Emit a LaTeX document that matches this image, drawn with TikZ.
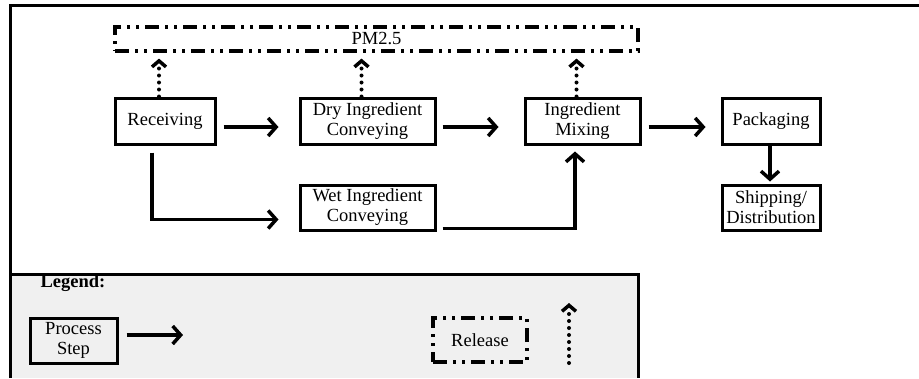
\documentclass[tikz,border=0pt]{standalone}
\usepackage{fontspec}
\setmainfont{Liberation Serif}
\usetikzlibrary{arrows.meta, calc}
\definecolor{legendgray}{RGB}{240, 240, 240}

\begin{document}
\begin{tikzpicture}[x=1pt, y=-1pt,
    procbox/.style={rectangle, draw, line width=3pt, align=center, inner sep=0pt,
        font=\fontsize{18.5}{20}\selectfont},
    relbox/.style={procbox, line width=3.2pt, dash pattern=on 14pt off 6pt on 3pt off 6pt on 3pt off 6pt},
    flow/.style={-{Straight Barb[length=8pt, width=18pt, line width=3.5pt]}, line width=3.5pt},
    release/.style={-{Straight Barb[length=6pt, width=14pt, line width=3.5pt]}, line width=4pt,
        line cap=round, dash pattern=on 0pt off 7pt},
]
    \useasboundingbox (0,0) rectangle (919,378);
    % legend panel and frame
    \fill[legendgray] (10,274) rectangle (638,378);
    \draw[line width=3pt] (10,378) -- (10,5) -- (919,5);
    \draw[line width=3pt] (10,274) -- (638,274) -- (638,378);

    % process steps
    \node[relbox, minimum width=523pt, minimum height=24pt] (pm) at (376.5,39) {PM2.5};
    \node[procbox, minimum width=100pt, minimum height=46pt] (recv) at (165,121) {Receiving};
    \node[procbox, minimum width=135pt, minimum height=46pt] (dry) at (367.5,121) {Dry Ingredient\\Conveying};
    \node[procbox, minimum width=135pt, minimum height=45pt] (wet) at (367.5,207.5) {Wet Ingredient\\Conveying};
    \node[procbox, minimum width=115pt, minimum height=46pt] (mix) at (582.5,121) {Ingredient\\Mixing};
    \node[procbox, minimum width=98pt, minimum height=46pt] (pack) at (771,121) {Packaging};
    \node[procbox, minimum width=98pt, minimum height=45pt] (ship) at (771,207.5) {Shipping/\\Distribution};

    % emissions
    \foreach \n in {recv, dry, mix} {
        \draw[release, shorten >=6pt] ($(\n.north)+(-6,0)$) -- ($(\n.north |- pm.south)+(-6,0)$);
    }

    % material flow
    \draw[flow, shorten <=7pt, shorten >=20pt] ([yshift=-6pt]recv.east) -- ([yshift=-6pt]dry.west);
    \draw[flow, shorten <=6pt, shorten >=25pt] ([yshift=-6pt]dry.east) -- ([yshift=-6pt]mix.west);
    \draw[flow, shorten <=7pt, shorten >=15pt] ([yshift=-6pt]mix.east) -- ([yshift=-6pt]pack.west);
    \draw[flow, shorten >=2pt] ([xshift=-1pt]pack.south) -- ([xshift=-1pt]ship.north);
    \draw[flow] ([xshift=-13pt, yshift=-7pt]recv.south) |- ([xshift=-20pt, yshift=-12pt]wet.west);
    \draw[flow] ([xshift=6pt, yshift=-21pt]wet.east) -| ([xshift=-7.5pt, yshift=-6pt]mix.south);

    % legend
    \node[font=\fontsize{18.5}{20}\selectfont\bfseries] (legend) at (73,283) {Legend:};
    \node[procbox, minimum width=87pt, minimum height=45pt] (proc) at (73.5,340.5) {Process\\Step};
    \coordinate (flowend) at (183,335);
    \draw[flow] ([xshift=8pt, yshift=5.5pt]proc.east) -- (flowend);
    \node[relbox, minimum width=94pt, minimum height=44pt] (rel) at (480,340) {Release};
    \coordinate (relbot) at (569,363);
    \coordinate (reltop) at (569,303);
    \draw[release] (relbot) -- (reltop);
\end{tikzpicture}
\end{document}
